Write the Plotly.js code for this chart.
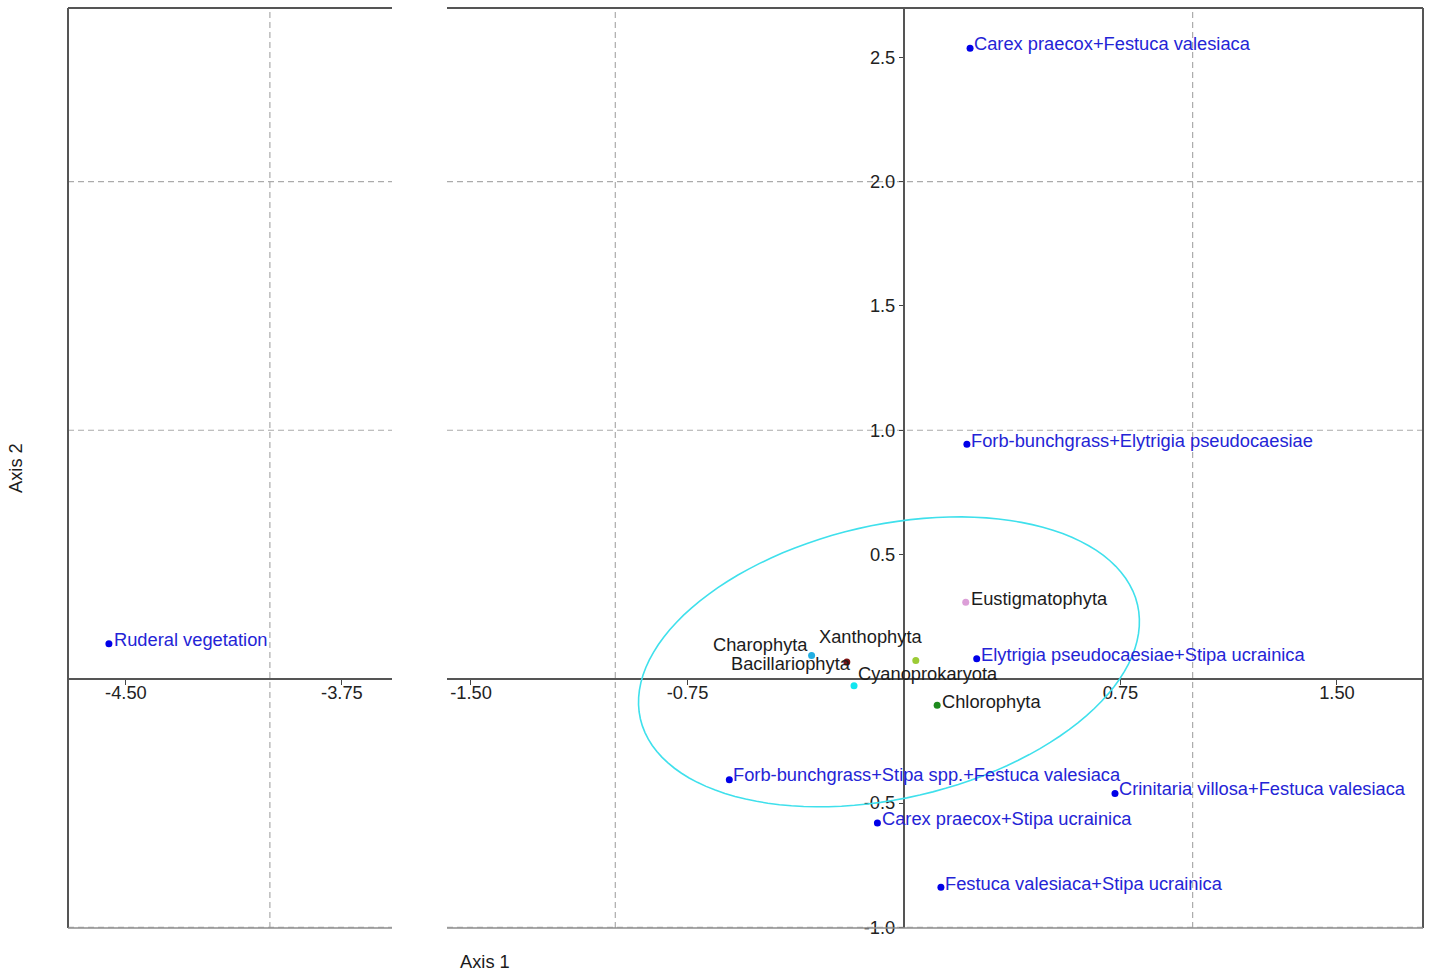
<!DOCTYPE html>
<html><head><meta charset="utf-8">
<script src="https://cdn.plot.ly/plotly-3.0.1.min.js"></script>
<style>html,body{margin:0;padding:0;background:#fff}#chart{width:1432px;height:973px}</style>
</head><body><div id="chart"></div>
<script>
// ---- data ----
const ruderalNames = ['Ruderal vegetation'];
const ruderalX = [-4.559];
const ruderalY = [0.141];

const communityNames = [
  'Carex praecox+Festuca valesiaca',
  'Forb-bunchgrass+Elytrigia pseudocaesiae',
  'Elytrigia pseudocaesiae+Stipa ucrainica',
  'Forb-bunchgrass+Stipa spp.+Festuca valesiaca',
  'Crinitaria villosa+Festuca valesiaca',
  'Carex praecox+Stipa ucrainica',
  'Festuca valesiaca+Stipa ucrainica'
];
const communityX = [0.229, 0.218, 0.252, -0.605, 0.731, -0.092, 0.128];
const communityY = [2.537, 0.944, 0.080, -0.406, -0.462, -0.580, -0.839];

const algaeNames = ['Eustigmatophyta','Xanthophyta','Charophyta','Bacillariophyta','Cyanoprokaryota','Chlorophyta'];
const algaeX = [0.214, 0.041, -0.320, -0.198, -0.173, 0.115];
const algaeY = [0.308, 0.073, 0.094, 0.067, -0.028, -0.107];

// confidence ellipse: centre and two conjugate semi-axis vectors (data units)
const ellipseCenter = [-0.052, 0.068];
const ellipseAxisU = [0.861, 0.230];
const ellipseAxisV = [-0.107, 0.536];

const xTickValsLeft = [-4.5, -3.75];
const xTickTextLeft = ['-4.50', '-3.75'];
const xTickValsRight = [-1.5, -0.75, 0.75, 1.5];
const xTickTextRight = ['-1.50', '-0.75', '0.75', '1.50'];
const yTickVals = [-1.0, -0.5, 0.5, 1.0, 1.5, 2.0, 2.5];
const yTickText = ['-1.0', '-0.5', '0.5', '1.0', '1.5', '2.0', '2.5'];
const xGridLeft = [-4];
const xGridRight = [-1, 1];
const yGrid = [-1, 1, 2];

// ---- styles / placement ----
const algaeColors = ['#dc9fd8', '#9ccb35', '#22aee2', '#7d1414', '#12e6f0', '#1d8a1d'];
const blue = '#0000e8';
const blueText = '#2424d6';
const darkText = '#1c1c1c';
const FONT = '"Liberation Sans", Arial, Helvetica, sans-serif';
const FS = 18.3;
// label placement: [anchor, dx(px), dy(px, up)]
const place = {
  'Ruderal vegetation': ['left', 5, 4],
  'Carex praecox+Festuca valesiaca': ['left', 4, 5],
  'Forb-bunchgrass+Elytrigia pseudocaesiae': ['left', 4, 4],
  'Elytrigia pseudocaesiae+Stipa ucrainica': ['left', 4, 4],
  'Forb-bunchgrass+Stipa spp.+Festuca valesiaca': ['left', 4, 5],
  'Crinitaria villosa+Festuca valesiaca': ['left', 4, 5],
  'Carex praecox+Stipa ucrainica': ['left', 5, 4],
  'Festuca valesiaca+Stipa ucrainica': ['left', 4, 4],
  'Eustigmatophyta': ['left', 5, 4],
  'Chlorophyta': ['left', 5, 4],
  'Charophyta': ['right', -4, 11],
  'Bacillariophyta': ['right', 4, -1],
  'Xanthophyta': ['right', 6, 24],
  'Cyanoprokaryota': ['left', 4, 12]
};

const W = 1432, H = 973;
const M = {l: 68, r: 9, t: 8, b: 45, pad: 0};
const pw = W - M.l - M.r, ph = H - M.t - M.b;
const X1 = [-4.701, -3.576], X2 = [-1.583, 1.798], YR = [-1.003, 2.699];
const dom1 = [0, (392 - 68) / pw], dom2 = [(447 - 68) / pw, 1];
const yZeroFrac = (0 - YR[0]) / (YR[1] - YR[0]);
const xZeroFrac = dom2[0] + (0 - X2[0]) / (X2[1] - X2[0]) * (dom2[1] - dom2[0]);

const traces = [
  {x: ruderalX, y: ruderalY, xaxis: 'x', yaxis: 'y', type: 'scatter', mode: 'markers',
   marker: {size: 7, color: blue}, hoverinfo: 'skip'},
  {x: communityX, y: communityY, xaxis: 'x2', yaxis: 'y', type: 'scatter', mode: 'markers',
   marker: {size: 7, color: blue}, hoverinfo: 'skip'},
  {x: algaeX, y: algaeY, xaxis: 'x2', yaxis: 'y', type: 'scatter', mode: 'markers',
   marker: {size: 7, color: algaeColors}, hoverinfo: 'skip'}
];

function labelAnn(name, x, y, xref, color) {
  const p = place[name];
  return {text: name, x: x, y: y, xref: xref, yref: 'y', showarrow: false,
    xanchor: p[0], yanchor: 'middle', xshift: p[1], yshift: p[2],
    borderpad: 0, borderwidth: 0, font: {family: FONT, size: FS, color: color}};
}
const annotations = [];
ruderalNames.forEach((n, i) => annotations.push(labelAnn(n, ruderalX[i], ruderalY[i], 'x', blueText)));
communityNames.forEach((n, i) => annotations.push(labelAnn(n, communityX[i], communityY[i], 'x2', blueText)));
algaeNames.forEach((n, i) => annotations.push(labelAnn(n, algaeX[i], algaeY[i], 'x2', darkText)));
annotations.push({text: 'Axis 2', xref: 'paper', yref: 'paper', x: (15 - M.l) / pw, y: 0.5,
  xanchor: 'center', yanchor: 'middle',
  textangle: -90, showarrow: false, font: {family: FONT, size: FS, color: darkText}});
annotations.push({text: 'Axis 1', xref: 'paper', yref: 'paper', x: (485 - M.l) / pw, y: -(962 - (H - M.b)) / ph,
  xanchor: 'center', yanchor: 'middle',
  showarrow: false, font: {family: FONT, size: FS, color: darkText}});

const gridLine = {color: '#ababab', width: 1.2, dash: '6px,4px'};
const shapes = [];
xGridLeft.forEach(v => shapes.push({type: 'line', xref: 'x', yref: 'y domain', x0: v, x1: v, y0: 0, y1: 1, line: gridLine, layer: 'below'}));
xGridRight.forEach(v => shapes.push({type: 'line', xref: 'x2', yref: 'y domain', x0: v, x1: v, y0: 0, y1: 1, line: gridLine, layer: 'below'}));
yGrid.forEach(v => {
  shapes.push({type: 'line', xref: 'x domain', yref: 'y', x0: 0, x1: 1, y0: v, y1: v, line: gridLine, layer: 'below'});
  shapes.push({type: 'line', xref: 'x2 domain', yref: 'y', x0: 0, x1: 1, y0: v, y1: v, line: gridLine, layer: 'below'});
});
const frame = {color: '#555', width: 2};
shapes.push({type: 'line', xref: 'paper', yref: 'paper', x0: dom1[0], x1: dom1[1], y0: 1, y1: 1, line: frame});
shapes.push({type: 'line', xref: 'paper', yref: 'paper', x0: 0, x1: 0, y0: 0, y1: 1, line: frame});
shapes.push({type: 'line', xref: 'paper', yref: 'paper', x0: dom2[0], x1: 1, y0: 1, y1: 1, line: frame});
shapes.push({type: 'line', xref: 'paper', yref: 'paper', x0: 1, x1: 1, y0: 0, y1: 1, line: frame});
const bottom = {color: '#8e8e8e', width: 1.5};
shapes.push({type: 'line', xref: 'paper', yref: 'paper', x0: dom1[0], x1: dom1[1], y0: 0, y1: 0, line: bottom});
shapes.push({type: 'line', xref: 'paper', yref: 'paper', x0: dom2[0], x1: 1, y0: 0, y1: 0, line: bottom});

// ellipse path from centre + conjugate axes
let path = '';
for (let k = 0; k <= 120; k++) {
  const t = 2 * Math.PI * k / 120;
  const ex = ellipseCenter[0] + ellipseAxisU[0] * Math.cos(t) + ellipseAxisV[0] * Math.sin(t);
  const ey = ellipseCenter[1] + ellipseAxisU[1] * Math.cos(t) + ellipseAxisV[1] * Math.sin(t);
  path += (k === 0 ? 'M' : 'L') + ex.toFixed(5) + ',' + ey.toFixed(5);
}
path += 'Z';
shapes.push({type: 'path', xref: 'x2', yref: 'y', path: path, line: {color: '#3fe0ec', width: 1.6}, layer: 'above'});

const tickFont = {family: FONT, size: FS, color: '#222'};
const xCommon = {anchor: 'free', position: yZeroFrac, showgrid: false, showline: false,
  tickmode: 'array', ticks: 'outside', ticklen: 5, tickwidth: 1, tickcolor: '#444',
  tickfont: tickFont, ticklabelstandoff: -8, fixedrange: true};

const layout = {
  width: W, height: H, margin: M, paper_bgcolor: '#fff', plot_bgcolor: '#fff',
  showlegend: false, hovermode: false, font: {family: FONT},
  xaxis: Object.assign({}, xCommon, {domain: dom1, range: X1, zeroline: false,
    tickvals: xTickValsLeft, ticktext: xTickTextLeft}),
  xaxis2: Object.assign({}, xCommon, {domain: dom2, range: X2, zeroline: true,
    zerolinecolor: '#555', zerolinewidth: 1.8, tickvals: xTickValsRight, ticktext: xTickTextRight}),
  yaxis: {domain: [0, 1], range: YR, anchor: 'free', position: xZeroFrac, showgrid: false,
    showline: false, zeroline: true, zerolinecolor: '#555', zerolinewidth: 1.8,
    tickmode: 'array', tickvals: yTickVals, ticktext: yTickText, ticks: 'outside', ticklen: 5,
    tickwidth: 1, tickcolor: '#444', tickfont: tickFont, fixedrange: true},
  shapes: shapes, annotations: annotations
};
Plotly.newPlot('chart', traces, layout, {staticPlot: true, displayModeBar: false});
</script>
</body></html>
